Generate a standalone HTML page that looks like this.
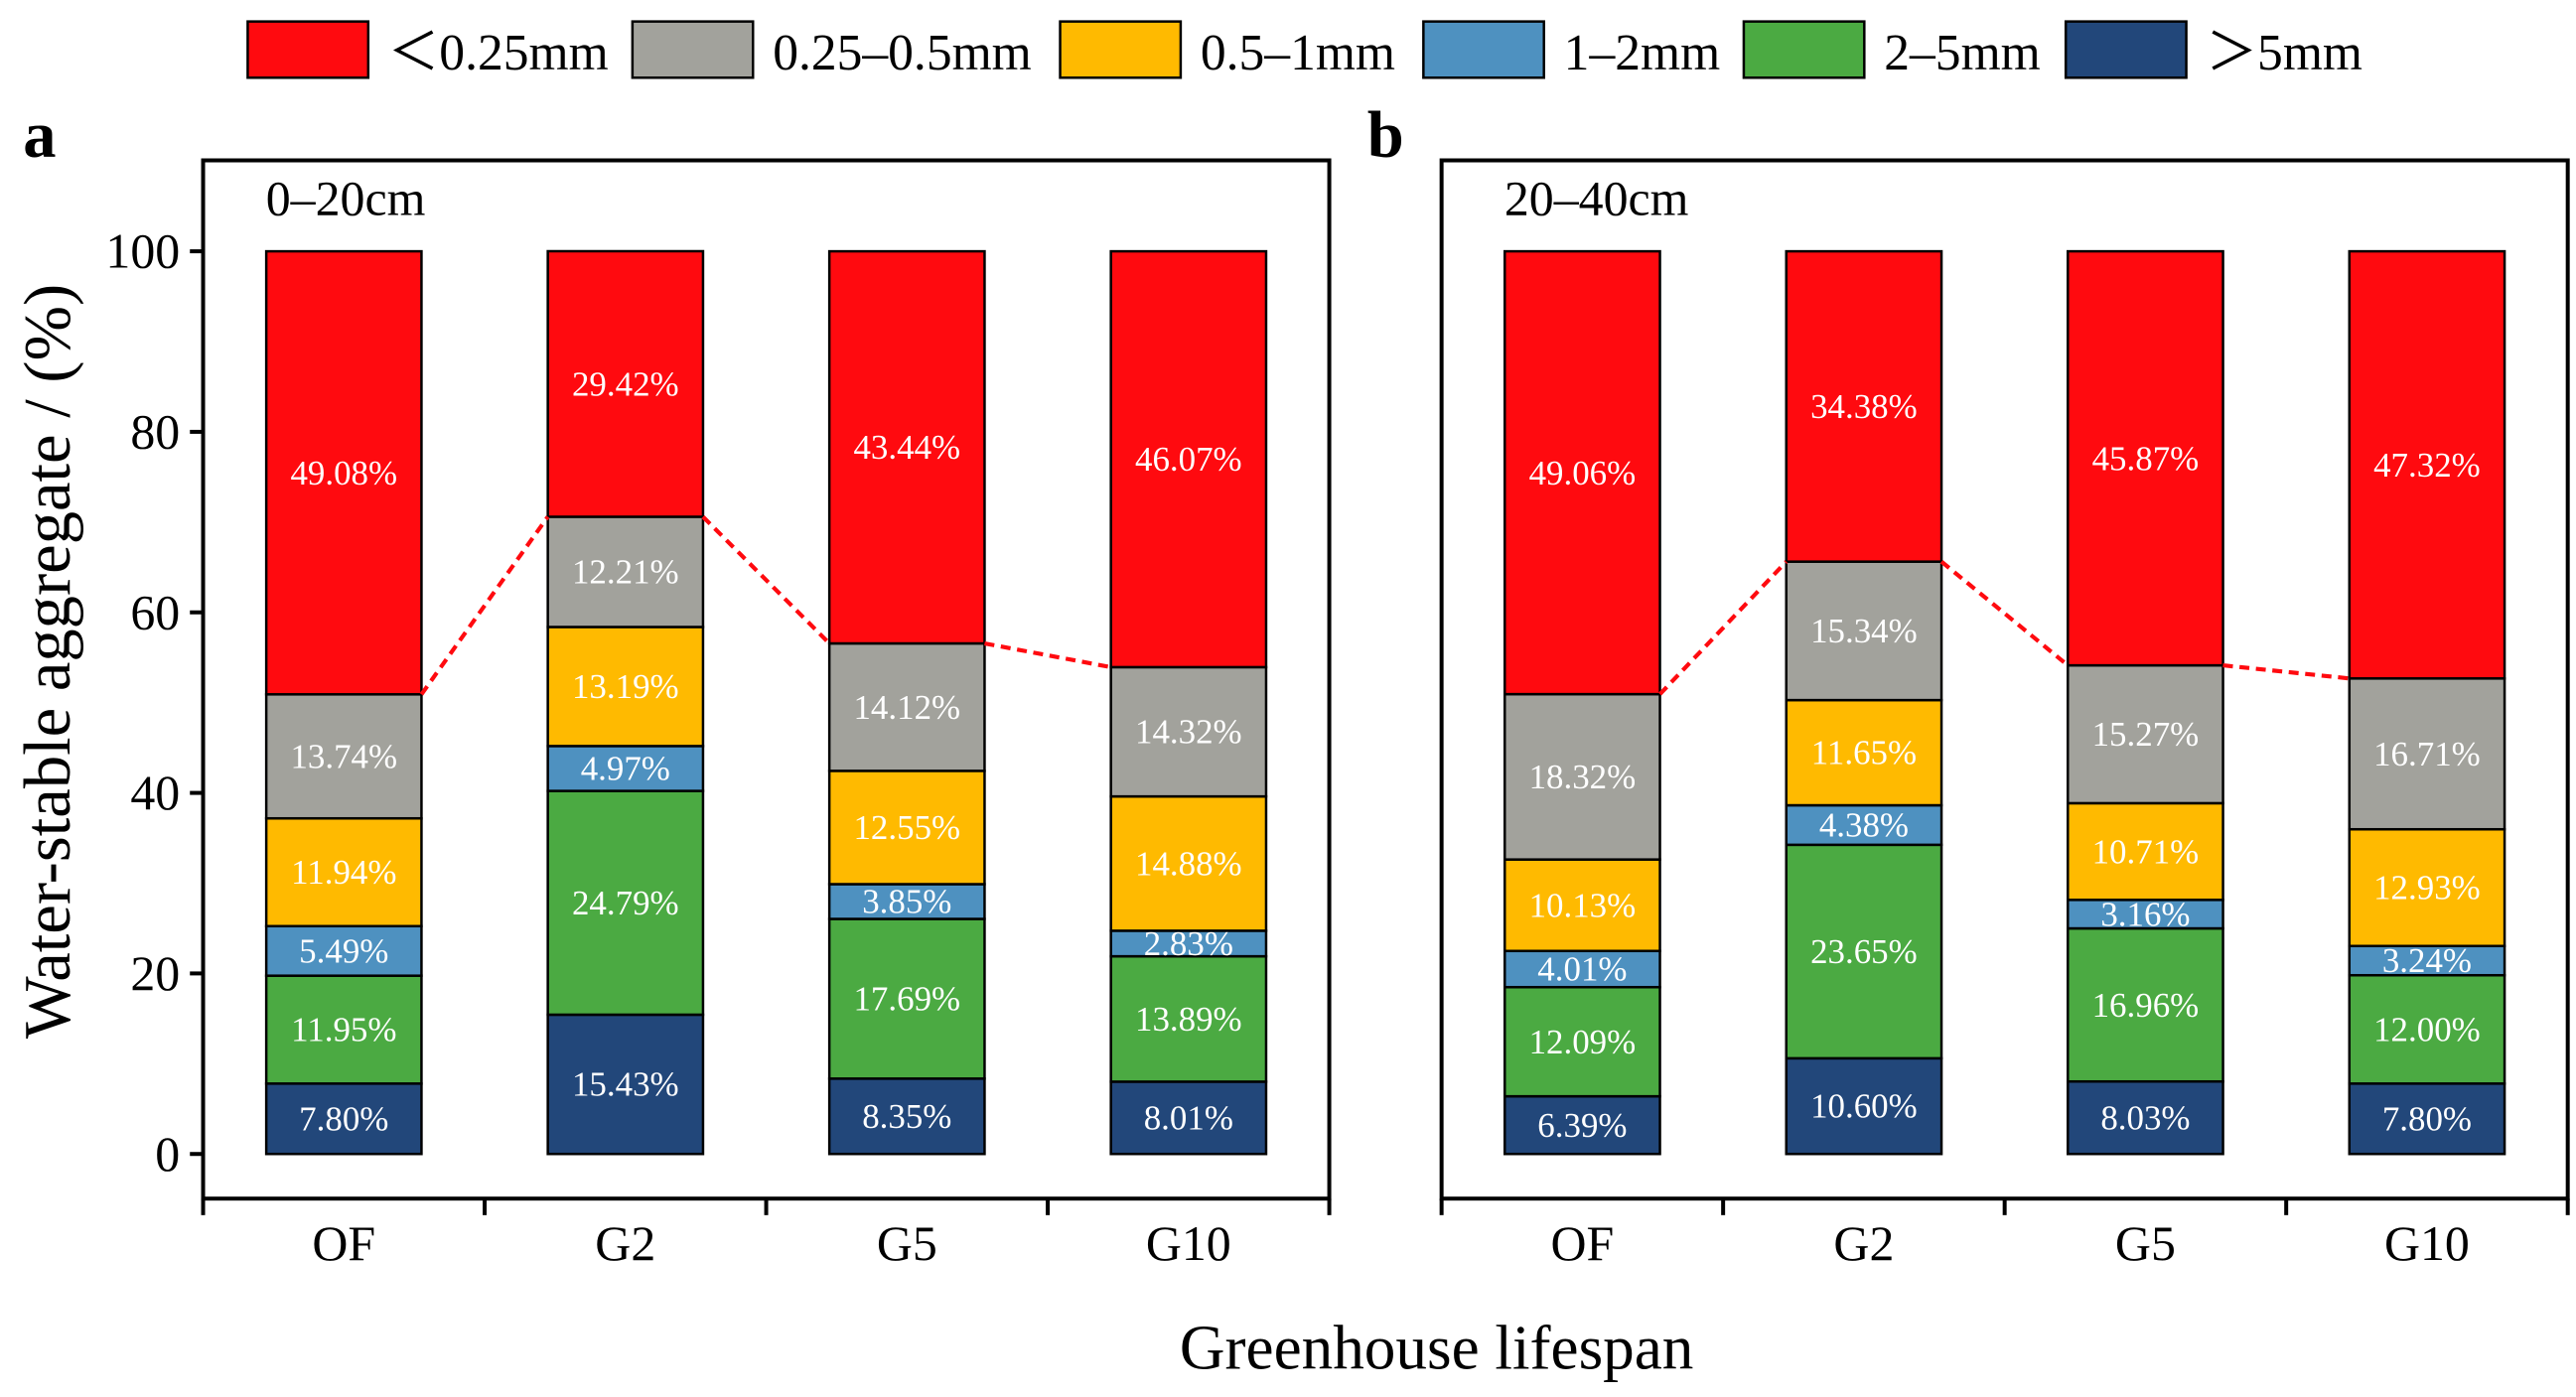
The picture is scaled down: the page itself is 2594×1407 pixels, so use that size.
<!DOCTYPE html>
<html><head><meta charset="utf-8"><style>
html,body{margin:0;padding:0;background:#fff}
svg{display:block}
svg text{font-family:"Liberation Serif","DejaVu Serif",serif}
</style></head><body>
<svg id="chart" width="2594" height="1407" viewBox="0 0 1560 845" preserveAspectRatio="none" xmlns="http://www.w3.org/2000/svg" font-family="Liberation Serif, DejaVu Serif, serif">
<g id="legend"></g>
<g id="panels"></g>
<text transform="translate(42,400) rotate(-90)" text-anchor="middle" font-size="40">Water-stable aggregate / (%)</text>
<text x="870" y="828" text-anchor="middle" font-size="38">Greenhouse lifespan</text>
</svg>
<script>
const categories = ["OF","G2","G5","G10"];
const seriesNames = ["＞5mm","2–5mm","1–2mm","0.5–1mm","0.25–0.5mm","＜0.25mm"];
const legendOrder = ["＜0.25mm","0.25–0.5mm","0.5–1mm","1–2mm","2–5mm","＞5mm"];
const colors = ["#22477A","#4BAA42","#4E91C0","#FFBA00","#A2A29C","#FF0A0F"];
const yTicks = [0,20,40,60,80,100];
const panelA = [
  [7.80,11.95,5.49,11.94,13.74,49.08],
  [15.43,24.79,4.97,13.19,12.21,29.42],
  [8.35,17.69,3.85,12.55,14.12,43.44],
  [8.01,13.89,2.83,14.88,14.32,46.07]
];
const panelB = [
  [6.39,12.09,4.01,10.13,18.32,49.06],
  [10.60,23.65,4.38,11.65,15.34,34.38],
  [8.03,16.96,3.16,10.71,15.27,45.87],
  [7.80,12.00,3.24,12.93,16.71,47.32]
];
const NS="http://www.w3.org/2000/svg";
function mk(parent,tag,attrs,text){const e=document.createElementNS(NS,tag);for(const k in attrs)e.setAttribute(k,attrs[k]);if(text!==undefined)e.textContent=text;parent.appendChild(e);return e;}
const y=v=>698-v*5.46;
const leg=document.getElementById('legend');
const legX=[150,383,642,862,1056,1251];
legendOrder.forEach((n,i)=>{
  const ci=seriesNames.indexOf(n);
  const r=mk(leg,'rect',{x:legX[i],y:13,width:73,height:34,fill:colors[ci],stroke:'#000','stroke-width':1.5});
  
  
  const t=mk(leg,'text',{x:legX[i]+85,y:42,'font-size':31},n);
  
  
});
const panels=document.getElementById('panels');
function drawPanel(data,x0,letter,letterX,depth,name){
  const g=mk(panels,'g',{});
  
  
  const W=682;
  const fr=mk(g,'rect',{x:x0,y:97,width:W,height:628,fill:'none',stroke:'#000','stroke-width':2.4});
  
  
  const step=W/4;
  for(let i=0;i<=4;i++){mk(g,'line',{x1:x0+i*step,y1:725,x2:x0+i*step,y2:735,stroke:'#000','stroke-width':2.4});}
  if(letter==='a'){
    yTicks.forEach(v=>{
      mk(g,'line',{x1:x0-8,y1:y(v),x2:x0,y2:y(v),stroke:'#000','stroke-width':2.4});
      const t=mk(g,'text',{x:x0-14,y:y(v)+10,'text-anchor':'end','font-size':30},String(v));
      
      
    });
  }
  const L=mk(g,'text',{x:letterX,y:95,'font-size':40,'font-weight':'bold'},letter);
  
  
  const d=mk(g,'text',{x:x0+38,y:130,'font-size':30},depth);
  
  
  const bw=94;
  const tops=[];
  data.forEach((vals,ci)=>{
    const cx=x0+step*(ci+0.5);
    let cum=0;
    vals.forEach((v,si)=>{
      const yb=y(cum),yt=y(cum+v);
      const r=mk(g,'rect',{x:cx-bw/2,y:yt,width:bw,height:yb-yt,fill:colors[si],stroke:'#000','stroke-width':1.5});
      
      
      const t=mk(g,'text',{x:cx,y:(yt+yb)/2+7,'text-anchor':'middle','font-size':21,fill:'#fff'},v.toFixed(2)+'%');
      
      
      if(si===4)tops.push({cx,yv:y(cum+v)});
      cum+=v;
    });
    const c=mk(g,'text',{x:cx,y:762,'text-anchor':'middle','font-size':30},categories[ci]);
    
    
  });
  for(let i=0;i<tops.length-1;i++){
    const l=mk(g,'line',{x1:tops[i].cx+bw/2,y1:tops[i].yv,x2:tops[i+1].cx-bw/2,y2:tops[i+1].yv,stroke:'#FF0A0F','stroke-width':2.5,'stroke-dasharray':'6,4'});
    
    
  }
}
drawPanel(panelA,123,'a',14,'0–20cm','panel-a');
drawPanel(panelB,873,'b',828,'20–40cm','panel-b');
</script>
</body></html>
